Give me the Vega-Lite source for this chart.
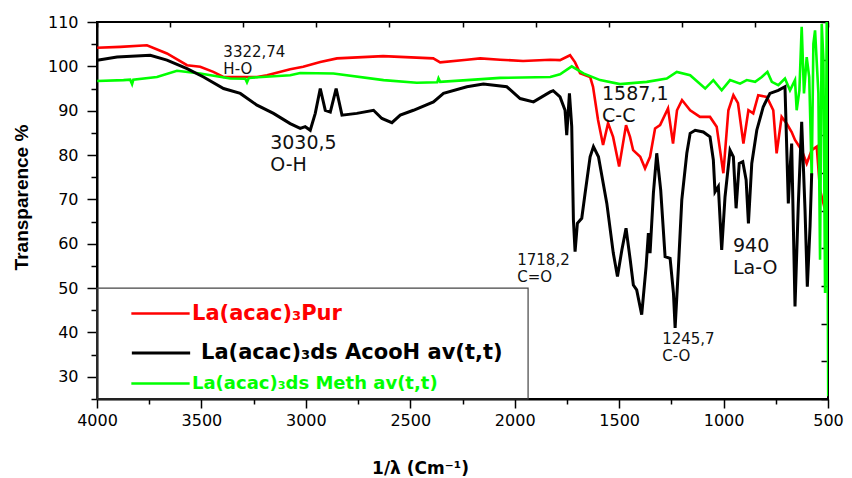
{
  "$schema": "https://vega.github.io/schema/vega-lite/v6.json",
  "width": 731,
  "height": 377,
  "autosize": {"type": "none"},
  "padding": {"left": 97, "top": 22, "right": 24, "bottom": 79},
  "background": "white",
  "config": {"view": {"stroke": "black", "strokeWidth": 2}},
  "datasets": {
    "pur": [
      {"w":3999,"t":104.2},{"w":3888,"t":104.4},{"w":3761,"t":104.75},{"w":3665,"t":102.9},{"w":3569,"t":100.25},{"w":3506,"t":99.9},{"w":3443,"t":98.75},{"w":3395,"t":97.6},{"w":3234,"t":97.6},{"w":3186,"t":98.0},{"w":3075,"t":99.35},{"w":3013,"t":99.9},{"w":2931,"t":101.0},{"w":2851,"t":101.8},{"w":2630,"t":102.3},{"w":2390,"t":101.8},{"w":2357,"t":100.9},{"w":2229,"t":101.5},{"w":2165,"t":101.8},{"w":2070,"t":101.5},{"w":1960,"t":101.2},{"w":1830,"t":101.5},{"w":1783,"t":101.4},{"w":1735,"t":102.5},{"w":1711,"t":100.9},{"w":1687,"t":98.45},{"w":1639,"t":97.6},{"w":1625,"t":95.4},{"w":1601,"t":87.9},{"w":1577,"t":82.25},{"w":1553,"t":87.2},{"w":1529,"t":84.1},{"w":1500,"t":77.4},{"w":1467,"t":86.75},{"w":1448,"t":84.1},{"w":1433,"t":81.1},{"w":1399,"t":79.6},{"w":1376,"t":77.0},{"w":1352,"t":79.6},{"w":1328,"t":86.0},{"w":1304,"t":86.75},{"w":1266,"t":90.5},{"w":1242,"t":82.6},{"w":1223,"t":90.1},{"w":1199,"t":92.4},{"w":1160,"t":90.1},{"w":1113,"t":88.6},{"w":1065,"t":88.6},{"w":1033,"t":86.4},{"w":1001,"t":75.9},{"w":977,"t":90.1},{"w":953,"t":93.5},{"w":931,"t":91.7},{"w":905,"t":82.6},{"w":881,"t":90.1},{"w":858,"t":89.4},{"w":834,"t":93.5},{"w":793,"t":93.1},{"w":762,"t":90.1},{"w":746,"t":80.4},{"w":722,"t":88.6},{"w":698,"t":87.1},{"w":674,"t":85.2},{"w":658,"t":83.4},{"w":626,"t":81.1},{"w":602,"t":78.1},{"w":578,"t":81.1},{"w":554,"t":81.9},{"w":538,"t":72.1},{"w":514,"t":67.6},{"w":509,"t":69.8}
    ],
    "acooh": [
      {"w":3999,"t":101.4},{"w":3904,"t":102.1},{"w":3745,"t":102.5},{"w":3665,"t":101.4},{"w":3569,"t":99.5},{"w":3490,"t":97.6},{"w":3394,"t":95.0},{"w":3314,"t":93.9},{"w":3234,"t":91.25},{"w":3155,"t":89.4},{"w":3075,"t":87.1},{"w":3027,"t":86.0},{"w":3003,"t":86.4},{"w":2979,"t":85.6},{"w":2955,"t":89.4},{"w":2931,"t":95.0},{"w":2907,"t":90.1},{"w":2883,"t":89.7},{"w":2855,"t":95.0},{"w":2827,"t":89.0},{"w":2756,"t":89.4},{"w":2676,"t":90.1},{"w":2636,"t":88.25},{"w":2588,"t":87.3},{"w":2548,"t":89.0},{"w":2485,"t":90.1},{"w":2389,"t":92.0},{"w":2341,"t":93.9},{"w":2229,"t":95.4},{"w":2150,"t":96.0},{"w":2038,"t":95.4},{"w":1974,"t":92.75},{"w":1910,"t":92.0},{"w":1830,"t":94.25},{"w":1816,"t":94.5},{"w":1783,"t":93.1},{"w":1759,"t":90.1},{"w":1751,"t":84.5},{"w":1738,"t":93.9},{"w":1727,"t":86.4},{"w":1719,"t":65.4},{"w":1711,"t":58.2},{"w":1700,"t":64.6},{"w":1679,"t":65.75},{"w":1663,"t":71.4},{"w":1639,"t":79.6},{"w":1623,"t":81.9},{"w":1599,"t":79.6},{"w":1559,"t":69.1},{"w":1528,"t":57.9},{"w":1508,"t":52.6},{"w":1487,"t":58.6},{"w":1467,"t":63.5},{"w":1447,"t":56.4},{"w":1432,"t":50.7},{"w":1416,"t":49.6},{"w":1392,"t":44.0},{"w":1371,"t":54.85},{"w":1360,"t":62.4},{"w":1352,"t":57.9},{"w":1336,"t":71.4},{"w":1320,"t":80.4},{"w":1301,"t":72.1},{"w":1280,"t":57.1},{"w":1256,"t":56.7},{"w":1240,"t":48.9},{"w":1232,"t":41.0},{"w":1216,"t":54.85},{"w":1200,"t":69.9},{"w":1176,"t":80.4},{"w":1160,"t":84.9},{"w":1136,"t":85.6},{"w":1097,"t":85.2},{"w":1065,"t":84.1},{"w":1049,"t":78.9},{"w":1041,"t":71.7},{"w":1025,"t":72.9},{"w":1009,"t":58.6},{"w":993,"t":70.6},{"w":969,"t":81.1},{"w":953,"t":79.6},{"w":940,"t":68.0},{"w":925,"t":78.1},{"w":908,"t":78.5},{"w":892,"t":74.4},{"w":881,"t":64.6},{"w":865,"t":78.1},{"w":841,"t":85.6},{"w":810,"t":90.9},{"w":778,"t":93.9},{"w":738,"t":94.6},{"w":706,"t":95.4},{"w":690,"t":69.1},{"w":682,"t":76.6},{"w":674,"t":82.6},{"w":658,"t":45.85},{"w":642,"t":69.1},{"w":626,"t":87.5},{"w":610,"t":67.6},{"w":599,"t":50.3},{"w":586,"t":63.9},{"w":578,"t":75.9}
    ],
    "meth": [
      {"w":3999,"t":96.7},{"w":3873,"t":96.9},{"w":3841,"t":97.0},{"w":3832,"t":96.0},{"w":3826,"t":97.0},{"w":3713,"t":97.6},{"w":3617,"t":99.0},{"w":3506,"t":98.4},{"w":3362,"t":97.25},{"w":3290,"t":97.2},{"w":3282,"t":96.4},{"w":3273,"t":97.4},{"w":3075,"t":98.0},{"w":3027,"t":98.5},{"w":2868,"t":98.4},{"w":2628,"t":96.9},{"w":2469,"t":96.3},{"w":2371,"t":96.4},{"w":2365,"t":97.3},{"w":2357,"t":96.5},{"w":2229,"t":96.9},{"w":2070,"t":97.4},{"w":1830,"t":97.6},{"w":1783,"t":98.2},{"w":1727,"t":100.0},{"w":1671,"t":98.4},{"w":1591,"t":96.9},{"w":1496,"t":96.0},{"w":1368,"t":96.5},{"w":1272,"t":97.25},{"w":1224,"t":98.75},{"w":1160,"t":98.0},{"w":1088,"t":95.0},{"w":1049,"t":96.9},{"w":1009,"t":94.6},{"w":969,"t":96.9},{"w":921,"t":96.1},{"w":889,"t":96.9},{"w":849,"t":96.5},{"w":817,"t":97.6},{"w":790,"t":98.75},{"w":769,"t":96.5},{"w":738,"t":95.75},{"w":706,"t":97.25},{"w":682,"t":94.6},{"w":658,"t":96.9},{"w":650,"t":90.1},{"w":637,"t":94.6},{"w":626,"t":108.9},{"w":615,"t":93.9},{"w":602,"t":102.1},{"w":590,"t":97.6},{"w":578,"t":75.1},{"w":570,"t":105.1},{"w":562,"t":108.1},{"w":546,"t":93.9},{"w":538,"t":56.4},{"w":530,"t":109.6},{"w":522,"t":101.4},{"w":514,"t":48.9},{"w":506,"t":110.4},{"w":499,"t":25.6}
    ]
  },
  "layer": [
    {
      "data": {"values": [{"x1": 4000, "x2": 1936, "y1": 25, "y2": 50}]},
      "mark": {"type": "rect", "fill": "white", "fillOpacity": 0, "stroke": "#444444", "strokeWidth": 1.2},
      "encoding": {
        "x": {"field": "x1", "type": "quantitative",
          "scale": {"domain": [500, 4000], "reverse": true, "nice": false, "zero": false},
          "axis": {"orient": "bottom", "offset": -377, "values": [4000,3650,3300,2950,2600,2250,1900,1550,1200,850,500], "labels": false, "title": null, "domain": false, "tickSize": 5, "tickWidth": 1.5, "tickColor": "black", "grid": false}},
        "x2": {"field": "x2"},
        "y": {"field": "y1", "type": "quantitative",
          "scale": {"domain": [25, 110], "nice": false, "zero": false},
          "axis": {"orient": "left", "offset": -731, "values": [25,33.5,42,50.5,59,67.5,76,84.5,93,101.5,110], "labels": false, "title": null, "domain": false, "tickSize": 7, "tickWidth": 1.5, "tickColor": "black", "grid": false}},
        "y2": {"field": "y2"}
      }
    },
    {
      "data": {"name": "pur"},
      "mark": {"type": "line", "strokeWidth": 2.6, "clip": true},
      "encoding": {
        "x": {"field": "w", "type": "quantitative",
          "axis": {"orient": "bottom", "values": [500,750,1000,1250,1500,1750,2000,2250,2500,2750,3000,3250,3500,3750,4000],
            "labelExpr": "datum.value % 500 === 0 ? datum.label : ''",
            "format": "d",
            "tickSize": {"condition": {"test": "datum.value % 500 !== 0", "value": 5}, "value": 9},
            "tickWidth": 1.5, "tickColor": "black", "domainColor": "black", "domainWidth": 2, "grid": false,
            "labelFont": "DejaVu Sans", "labelFontSize": 16, "labelColor": "black", "labelPadding": 4, "labelFlush": false, "labelOverlap": false,
            "title": "1/λ (Cm⁻¹)", "titleFont": "DejaVu Sans", "titleFontWeight": "bold", "titleFontSize": 17, "titleColor": "black",
            "titleX": 323, "titleY": 74, "titleBaseline": "alphabetic", "titleAnchor": null, "titleAlign": "center"}},
        "y": {"field": "t", "type": "quantitative",
          "axis": {"orient": "left", "values": [25,30,35,40,45,50,55,60,65,70,75,80,85,90,95,100,105,110],
            "labelExpr": "datum.value % 10 === 0 ? datum.label : ''",
            "tickSize": {"condition": {"test": "datum.value % 10 !== 0", "value": 6}, "value": 10},
            "tickWidth": 1.5, "tickColor": "black", "domainColor": "black", "domainWidth": 2, "grid": false,
            "labelFont": "DejaVu Sans", "labelFontSize": 16, "labelColor": "black", "labelPadding": 9, "labelFlush": false, "labelOverlap": false,
            "title": "Transparence %", "titleFont": "Liberation Sans", "titleFontWeight": "bold", "titleFontSize": 19, "titleColor": "black",
            "titleX": -76, "titleY": 175, "titleAngle": -90, "titleBaseline": "middle", "titleAlign": "center", "titleAnchor": null}},
        "color": {"datum": "La(acac)₃Pur", "type": "nominal",
          "scale": {"domain": ["La(acac)₃Pur"], "range": ["#ff0000"]},
          "legend": {"orient": "none", "legendX": 33, "legendY": 261, "title": null, "padding": 0,
            "symbolType": "stroke", "symbolSize": 3400, "symbolStrokeWidth": 2.5,
            "labelFont": "DejaVu Sans", "labelFontWeight": "bold", "labelFontSize": 21, "labelColor": "#ff0000", "labelOffset": 1, "labelLimit": 400}}
      }
    },
    {
      "data": {"name": "meth"},
      "mark": {"type": "line", "strokeWidth": 2.6, "clip": true},
      "encoding": {
        "x": {"field": "w", "type": "quantitative", "axis": null},
        "y": {"field": "t", "type": "quantitative", "axis": null},
        "color": {"datum": "La(acac)₃ds Meth av(t,t)", "type": "nominal",
          "scale": {"domain": ["La(acac)₃ds Meth av(t,t)"], "range": ["#00ff00"]},
          "legend": {"orient": "none", "legendX": 33, "legendY": 331, "title": null, "padding": 0,
            "symbolType": "stroke", "symbolSize": 3400, "symbolStrokeWidth": 2.5,
            "labelFont": "DejaVu Sans", "labelFontWeight": "bold", "labelFontSize": 18, "labelColor": "#00ff00", "labelOffset": 1, "labelLimit": 400}}
      }
    },
    {
      "data": {"name": "acooh"},
      "mark": {"type": "line", "strokeWidth": 3, "clip": true},
      "encoding": {
        "x": {"field": "w", "type": "quantitative", "axis": null},
        "y": {"field": "t", "type": "quantitative", "axis": null},
        "color": {"datum": "La(acac)₃ds AcooH av(t,t)", "type": "nominal",
          "scale": {"domain": ["La(acac)₃ds AcooH av(t,t)"], "range": ["#000000"]},
          "legend": {"orient": "none", "legendX": 33, "legendY": 300, "title": null, "padding": 0,
            "symbolType": "stroke", "symbolSize": 3400, "symbolStrokeWidth": 3,
            "labelFont": "DejaVu Sans", "labelFontWeight": "bold", "labelFontSize": 21, "labelColor": "#000000", "labelOffset": 9, "labelLimit": 400}}
      }
    },
    {
      "data": {"values": [
        {"w": 3395, "t": 102.1, "label": "3322,74\nH-O"},
        {"w": 1988, "t": 55.2, "label": "1718,2\nC=O"},
        {"w": 1294, "t": 37.45, "label": "1245,7\nC-O"}
      ]},
      "mark": {"type": "text", "align": "left", "baseline": "alphabetic", "lineBreak": "\n", "lineHeight": 17, "font": "DejaVu Sans", "fontSize": 15, "color": "#111111"},
      "encoding": {
        "x": {"field": "w", "type": "quantitative", "axis": null},
        "y": {"field": "t", "type": "quantitative", "axis": null},
        "text": {"field": "label"}
      }
    },
    {
      "data": {"values": [
        {"w": 3171, "t": 81.35, "label": "3030,5\nO-H"},
        {"w": 1582, "t": 92.4, "label": "1587,1\nC-C"},
        {"w": 955, "t": 58.2, "label": "940\nLa-O"}
      ]},
      "mark": {"type": "text", "align": "left", "baseline": "alphabetic", "lineBreak": "\n", "lineHeight": 22, "font": "DejaVu Sans", "fontSize": 19, "color": "#111111"},
      "encoding": {
        "x": {"field": "w", "type": "quantitative", "axis": null},
        "y": {"field": "t", "type": "quantitative", "axis": null},
        "text": {"field": "label"}
      }
    }
  ],
  "resolve": {
    "scale": {"color": "independent"},
    "legend": {"color": "independent"},
    "axis": {"x": "independent", "y": "independent"}
  }
}
